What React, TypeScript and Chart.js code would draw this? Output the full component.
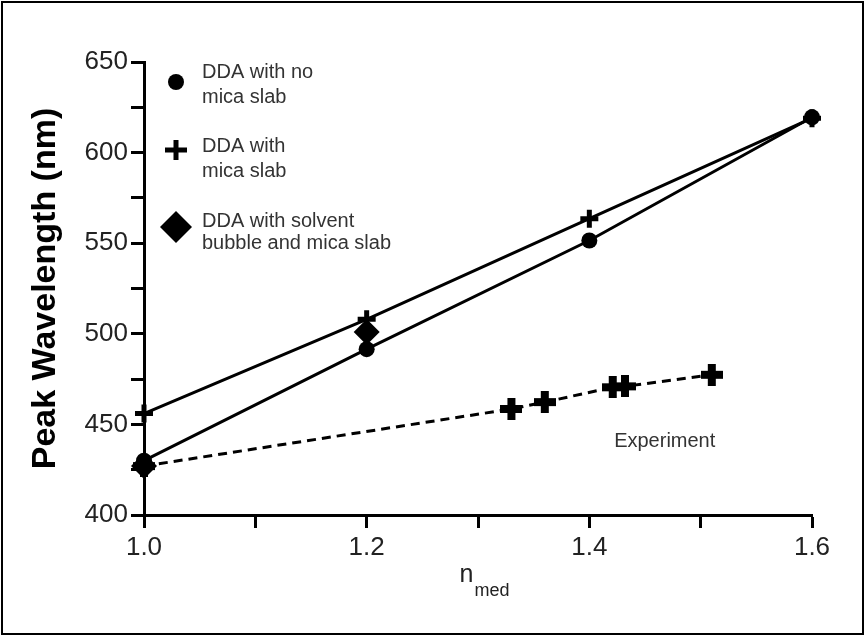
import React, { useEffect, useRef } from 'react';
import { Chart, registerables } from 'chart.js';

Chart.register(...registerables);

// ---- data ----
const nMed = [1.0, 1.2, 1.4, 1.6];
const noMicaSlab = [430, 491.5, 551.5, 619.5];
const withMicaSlab = [456, 508, 563.5, 619];
const bubbleX = [1.0, 1.2];
const bubbleY = [427, 501];
const experimentX = [1.0, 1.33, 1.36, 1.421, 1.432, 1.51];
const experimentY = [427, 458.5, 462.3, 470.5, 471, 477.4];

const legendLabels = [
  ['DDA with no', 'mica slab'],
  ['DDA with', 'mica slab'],
  ['DDA with solvent', 'bubble and mica slab'],
];
const experimentLabel = 'Experiment';
const yTitle = 'Peak Wavelength (nm)';
const xTitleMain = 'n';
const xTitleSub = 'med';

const FONT = '"Liberation Sans", Arial, Helvetica, sans-serif';

function makeBoldCross(): HTMLCanvasElement {
  const c = document.createElement('canvas');
  c.width = 22;
  c.height = 22;
  const g = c.getContext('2d')!;
  g.fillStyle = '#000';
  g.fillRect(7, 0, 8, 22);
  g.fillRect(0, 7, 22, 8);
  return c;
}

const decorPlugin = {
  id: 'decor',
  afterDraw(chart: any) {
    const ctx = chart.ctx as CanvasRenderingContext2D;
    const { left, top, bottom } = chart.chartArea;
    ctx.save();
    // outer frame
    ctx.strokeStyle = '#000';
    ctx.lineWidth = 2;
    ctx.strokeRect(2, 2, chart.width - 4, chart.height - 4);

    // y title
    ctx.save();
    ctx.translate(46, (top + bottom) / 2);
    ctx.rotate(-Math.PI / 2);
    ctx.font = `bold 34px ${FONT}`;
    ctx.fillStyle = '#000';
    ctx.textAlign = 'center';
    ctx.textBaseline = 'middle';
    ctx.fillText(yTitle, 0, 0);
    ctx.restore();

    // x title n_med
    ctx.fillStyle = '#222';
    ctx.textBaseline = 'alphabetic';
    ctx.textAlign = 'left';
    ctx.font = `25px ${FONT}`;
    const wMain = ctx.measureText(xTitleMain).width;
    ctx.font = `18px ${FONT}`;
    const wSub = ctx.measureText(xTitleSub).width;
    const cx = (chart.chartArea.left + chart.chartArea.right) / 2;
    const startX = cx - (wMain + wSub) / 2 + 6;
    ctx.font = `25px ${FONT}`;
    ctx.fillText(xTitleMain, startX, bottom + 67);
    ctx.font = `18px ${FONT}`;
    ctx.fillText(xTitleSub, startX + wMain + 1, bottom + 81);

    // legend
    ctx.fillStyle = '#000';
    const mx = left + 32;
    // circle
    ctx.beginPath();
    ctx.arc(mx, top + 20, 8, 0, Math.PI * 2);
    ctx.fill();
    // plus
    ctx.fillRect(mx - 11, top + 88 - 2.5, 22, 5);
    ctx.fillRect(mx - 2.5, top + 88 - 10, 5, 20);
    // diamond
    ctx.beginPath();
    ctx.moveTo(mx, top + 165 - 16);
    ctx.lineTo(mx + 16, top + 165);
    ctx.lineTo(mx, top + 165 + 16);
    ctx.lineTo(mx - 16, top + 165);
    ctx.closePath();
    ctx.fill();

    ctx.fillStyle = '#333';
    ctx.font = `20px ${FONT}`;
    const tx = left + 58;
    const baselines = [
      [top + 16, top + 41],
      [top + 90, top + 115],
      [top + 165, top + 187],
    ];
    legendLabels.forEach((lines, i) => {
      lines.forEach((line, j) => ctx.fillText(line, tx, baselines[i][j]));
    });

    // experiment label
    ctx.textAlign = 'center';
    ctx.fillText(
      experimentLabel,
      chart.scales.x.getPixelForValue(1.4677),
      chart.scales.y.getPixelForValue(437.5)
    );
    ctx.restore();
  },
};

export default function App() {
  const ref = useRef<HTMLCanvasElement | null>(null);

  useEffect(() => {
    if (!ref.current) return;
    const cross = makeBoldCross();
    const axisCommon = {
      grid: {
        drawOnChartArea: false,
        drawTicks: true,
        tickLength: 13,
        tickWidth: 3,
        tickColor: '#000',
        color: '#000',
      },
      border: { display: true, color: '#000', width: 3 },
    };
    const chart = new Chart(ref.current, {
      type: 'scatter',
      data: {
        datasets: [
          {
            label: legendLabels[0].join(' '),
            data: nMed.map((x, i) => ({ x, y: noMicaSlab[i] })),
            showLine: true,
            borderColor: '#000',
            borderWidth: 3,
            backgroundColor: '#000',
            pointStyle: 'circle',
            pointRadius: 8,
            pointBorderWidth: 0,
            clip: false,
            order: 1,
          },
          {
            label: legendLabels[1].join(' '),
            data: nMed.map((x, i) => ({ x, y: withMicaSlab[i] })),
            showLine: true,
            borderColor: '#000',
            borderWidth: 3,
            backgroundColor: '#000',
            pointStyle: 'cross',
            pointRadius: 9,
            pointBorderWidth: 5,
            clip: false,
            order: 2,
          },
          {
            label: legendLabels[2].join(' '),
            data: bubbleX.map((x, i) => ({ x, y: bubbleY[i] })),
            showLine: false,
            borderColor: '#000',
            backgroundColor: '#000',
            pointStyle: 'rectRot',
            pointRadius: 13,
            pointBorderWidth: 0,
            clip: false,
            order: 0,
          },
          {
            label: experimentLabel,
            data: experimentX.map((x, i) => ({ x, y: experimentY[i] })),
            showLine: true,
            borderColor: '#000',
            borderWidth: 3,
            borderDash: [9, 6],
            backgroundColor: '#000',
            pointStyle: cross as any,
            pointRadius: 11,
            clip: false,
            order: 3,
          },
        ],
      },
      options: {
        animation: false,
        responsive: false,
        maintainAspectRatio: false,
        layout: { padding: { left: 0, top: 62, right: 53, bottom: 0 } },
        plugins: {
          legend: { display: false },
          tooltip: { enabled: false },
        },
        scales: {
          x: {
            type: 'linear',
            min: 1.0,
            max: 1.6,
            ...axisCommon,
            ticks: {
              stepSize: 0.1,
              autoSkip: false,
              maxRotation: 0,
              padding: 4,
              color: '#222',
              font: { family: FONT, size: 26 },
              callback: (v: any) => {
                const k = Math.round(Number(v) * 10);
                return k % 2 === 0 ? (k / 10).toFixed(1) : '';
              },
            },
            afterFit: (s: any) => {
              s.height = 121;
            },
          },
          y: {
            type: 'linear',
            min: 400,
            max: 650,
            ...axisCommon,
            ticks: {
              stepSize: 25,
              autoSkip: false,
              padding: 3,
              color: '#222',
              font: { family: FONT, size: 26 },
              callback: (v: any) => (Number(v) % 50 === 0 ? String(v) : ''),
            },
            afterFit: (s: any) => {
              s.width = 144;
            },
          },
        },
      },
      plugins: [decorPlugin],
    } as any);
    return () => chart.destroy();
  }, []);

  return (
    <div style={{ position: 'absolute', left: 0, top: 0, width: 865, height: 636, background: '#fff' }}>
      <canvas ref={ref} width={865} height={636} style={{ display: 'block', width: 865, height: 636 }} />
    </div>
  );
}
